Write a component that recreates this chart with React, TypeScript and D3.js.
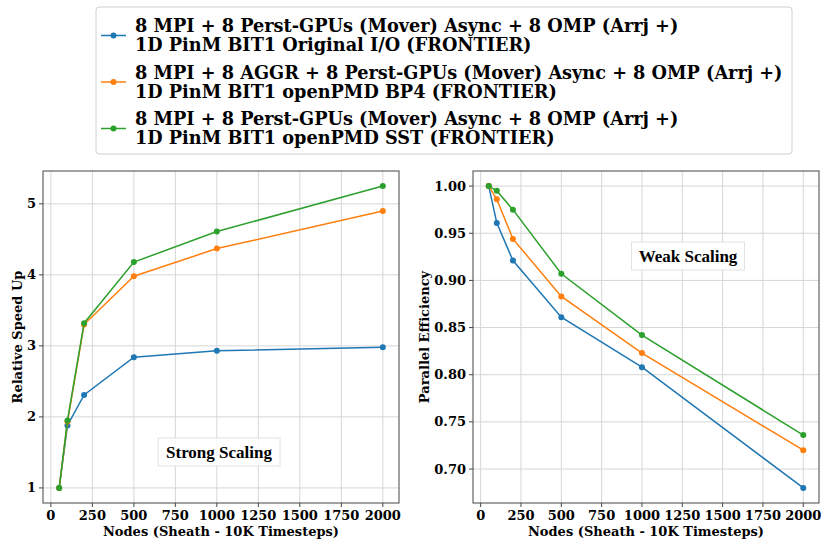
import React from "react";
import * as d3 from "d3";

// node counts (x axis)
const nodes = [50, 100, 200, 500, 1000, 2000];

// strong scaling: relative speed up
const speedOriginal = [1, 1.88, 2.31, 2.84, 2.93, 2.98];
const speedBP4 = [1, 1.93, 3.3, 3.98, 4.37, 4.9];
const speedSST = [1, 1.95, 3.32, 4.18, 4.61, 5.25];

// weak scaling: parallel efficiency
const effOriginal = [1.0, 0.961, 0.921, 0.861, 0.808, 0.68];
const effBP4 = [1.0, 0.986, 0.944, 0.883, 0.823, 0.72];
const effSST = [1.0, 0.995, 0.975, 0.907, 0.842, 0.736];

const xTicks = [0, 250, 500, 750, 1000, 1250, 1500, 1750, 2000];
const speedTicks = [1, 2, 3, 4, 5];
const effTicks = [0.7, 0.75, 0.8, 0.85, 0.9, 0.95, 1.0];

const legendLabels = [
  ["8 MPI + 8 Perst-GPUs (Mover) Async + 8 OMP (Arrj +)", "1D PinM BIT1 Original I/O (FRONTIER)"],
  ["8 MPI + 8 AGGR + 8 Perst-GPUs (Mover) Async + 8 OMP (Arrj +)", "1D PinM BIT1 openPMD BP4 (FRONTIER)"],
  ["8 MPI + 8 Perst-GPUs (Mover) Async + 8 OMP (Arrj +)", "1D PinM BIT1 openPMD SST (FRONTIER)"],
];
const colors = ["#1f77b4", "#ff7f0e", "#2ca02c"];

const serif = "'DejaVu Serif', serif";
const times = "'Liberation Serif', serif";

type PanelProps = {
  left: number;
  right: number;
  top: number;
  bottom: number;
  series: number[][];
  yTicks: number[];
  yFormat: (v: number) => string;
  yLabel: string;
  yLabelX: number;
  note: string;
  noteX: number;
  noteY: number;
  noteW: number;
};

const margin = (vals: number[]): [number, number] => {
  const [lo, hi] = d3.extent(vals) as [number, number];
  const m = (hi - lo) * 0.05;
  return [lo - m, hi + m];
};

const Panel = (p: PanelProps) => {
  const x = d3.scaleLinear().domain(margin(nodes)).range([p.left, p.right]);
  const y = d3.scaleLinear().domain(margin(p.series.flat())).range([p.bottom, p.top]);
  const line = d3
    .line<number>()
    .x((_, i) => x(nodes[i]))
    .y((d) => y(d));
  const midX = (p.left + p.right) / 2;
  const midY = (p.top + p.bottom) / 2;
  return (
    <g>
      {xTicks.map((t) => (
        <line key={"gx" + t} x1={x(t)} x2={x(t)} y1={p.top} y2={p.bottom} stroke="#d6d6d6" strokeWidth={1} />
      ))}
      {p.yTicks.map((t) => (
        <line key={"gy" + t} x1={p.left} x2={p.right} y1={y(t)} y2={y(t)} stroke="#d6d6d6" strokeWidth={1} />
      ))}
      {p.series.map((s, k) => (
        <g key={"s" + k}>
          <path d={line(s) || ""} fill="none" stroke={colors[k]} strokeWidth={1.5} />
          {s.map((v, i) => (
            <circle key={i} cx={x(nodes[i])} cy={y(v)} r={3} fill={colors[k]} />
          ))}
        </g>
      ))}
      <rect x={p.left} y={p.top} width={p.right - p.left} height={p.bottom - p.top} fill="none" stroke="#444" strokeWidth={1} />
      {xTicks.map((t) => (
        <g key={"tx" + t}>
          <line x1={x(t)} x2={x(t)} y1={p.bottom} y2={p.bottom + 4} stroke="#444" />
          <text x={x(t)} y={p.bottom + 17} textAnchor="middle" fontFamily={serif} fontWeight="bold" fontSize={13}>
            {t}
          </text>
        </g>
      ))}
      {p.yTicks.map((t) => (
        <g key={"ty" + t}>
          <line x1={p.left - 4} x2={p.left} y1={y(t)} y2={y(t)} stroke="#444" />
          <text x={p.left - 7} y={y(t)} dy="0.35em" textAnchor="end" fontFamily={serif} fontWeight="bold" fontSize={13}>
            {p.yFormat(t)}
          </text>
        </g>
      ))}
      <text x={midX} y={p.bottom + 33} textAnchor="middle" fontFamily={serif} fontWeight="bold" fontSize={13}>
        Nodes (Sheath - 10K Timesteps)
      </text>
      <text
        transform={`translate(${p.yLabelX},${midY}) rotate(-90)`}
        textAnchor="middle"
        fontFamily={serif}
        fontWeight="bold"
        fontSize={13}
      >
        {p.yLabel}
      </text>
      <rect x={p.noteX - p.noteW / 2} y={p.noteY - 14} width={p.noteW} height={28} fill="white" fillOpacity={0.85} stroke="#e2e2e2" />
      <text x={p.noteX} y={p.noteY} dy="0.35em" textAnchor="middle" fontFamily={times} fontWeight="bold" fontSize={17}>
        {p.note}
      </text>
    </g>
  );
};

export default function App() {
  return (
    <svg width={831} height={541} style={{ position: "absolute", left: 0, top: 0, background: "white" }}>
      <rect x={96} y={7} width={696} height={147} rx={3} fill="white" stroke="#d0d0d0" />
      {legendLabels.map((lines, k) => {
        const y0 = 26 + k * 46.5;
        return (
          <g key={k}>
            <line x1={101} x2={126} y1={y0 + 9.5} y2={y0 + 9.5} stroke={colors[k]} strokeWidth={1.5} />
            <circle cx={113.5} cy={y0 + 9.5} r={3} fill={colors[k]} />
            {lines.map((t, j) => (
              <text key={j} x={135} y={y0 + j * 19} dy="0.35em" fontFamily={serif} fontWeight="bold" fontSize={17.7}>
                {t}
              </text>
            ))}
          </g>
        );
      })}
      <Panel
        left={43}
        right={399}
        top={171}
        bottom={503}
        series={[speedOriginal, speedBP4, speedSST]}
        yTicks={speedTicks}
        yFormat={(v) => String(v)}
        yLabel="Relative Speed Up"
        yLabelX={22}
        note="Strong Scaling"
        noteX={219}
        noteY={452}
        noteW={122}
      />
      <Panel
        left={473}
        right={819}
        top={171}
        bottom={503}
        series={[effOriginal, effBP4, effSST]}
        yTicks={effTicks}
        yFormat={(v) => v.toFixed(2)}
        yLabel="Parallel Efficiency"
        yLabelX={429}
        note="Weak Scaling"
        noteX={688}
        noteY={256}
        noteW={113}
      />
    </svg>
  );
}
